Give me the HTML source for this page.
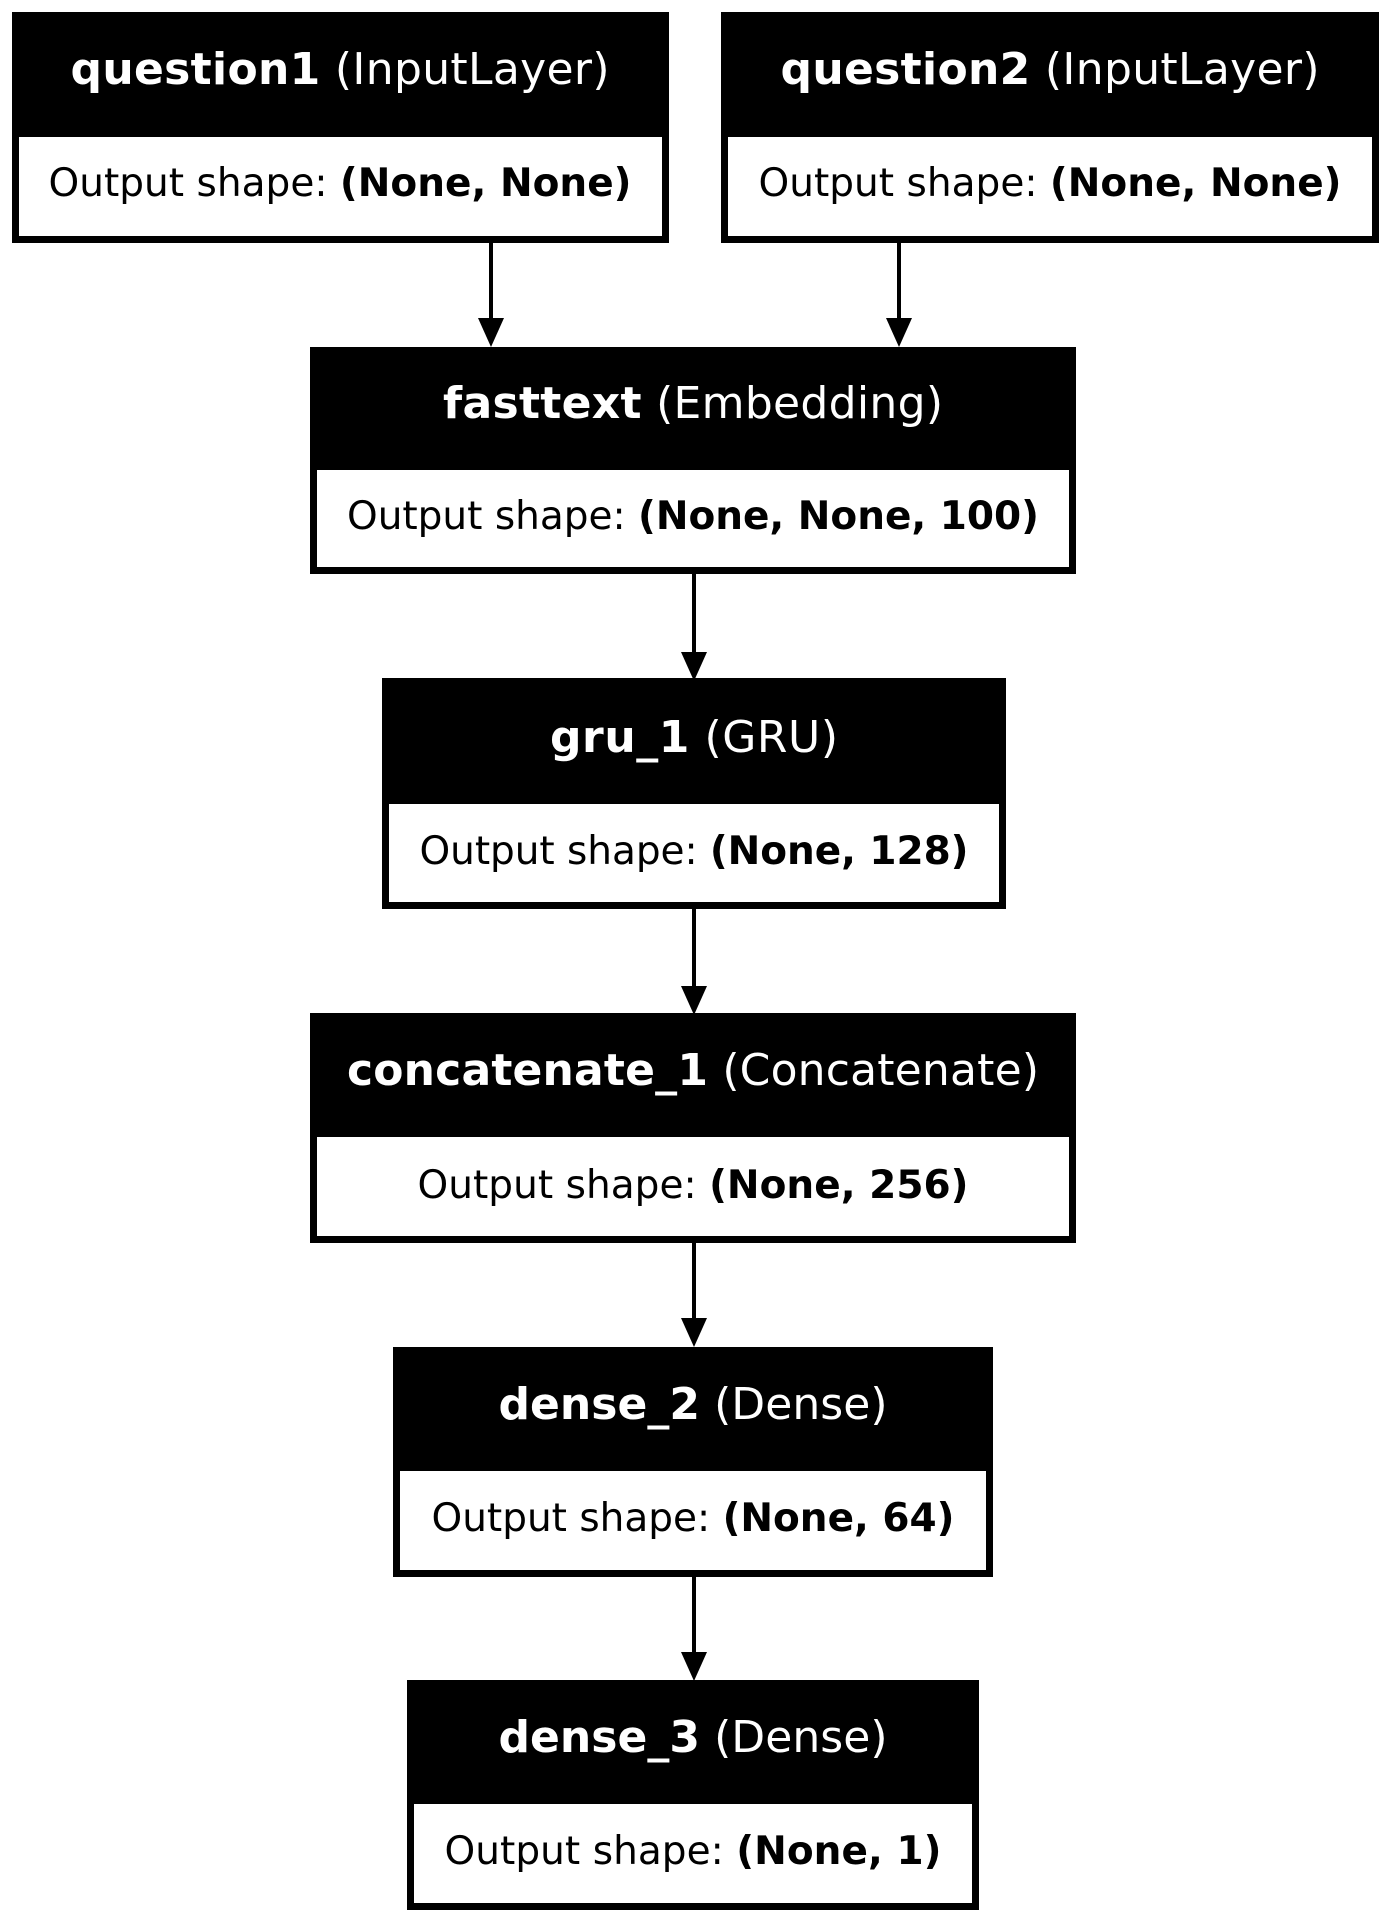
<!DOCTYPE html>
<html><head><meta charset="utf-8"><style>
html,body{margin:0;padding:0;background:#fff;}
svg{display:block;}
text{font-family:"DejaVu Sans","Liberation Sans",sans-serif;}
.h{fill:#fff;font-size:44px;}
.b{fill:#000;font-size:39px;}
.bd{font-weight:bold;}
</style></head><body>
<svg width="1389" height="1922" viewBox="0 0 1389 1922" xmlns="http://www.w3.org/2000/svg">
<g stroke="#000" stroke-width="4">
<line x1="491" y1="243" x2="491" y2="320"/>
<line x1="899" y1="243" x2="899" y2="320"/>
<line x1="694" y1="574" x2="694" y2="652"/>
<line x1="694" y1="909" x2="694" y2="986"/>
<line x1="694" y1="1243" x2="694" y2="1318"/>
<line x1="694" y1="1577" x2="694" y2="1652"/>
</g>
<g fill="#000">
<polygon points="478,318 504,318 491,347"/>
<polygon points="886,318 912,318 899,347"/>
<polygon points="681,652 707,652 694,681"/>
<polygon points="681,986 707,986 694,1015"/>
<polygon points="681,1318 707,1318 694,1347"/>
<polygon points="681,1652 707,1652 694,1681"/>
</g>
<rect x="12" y="12" width="657" height="231" fill="#000"/>
<rect x="19" y="137" width="643" height="99" fill="#fff"/>
<text class="h" x="340" y="84" text-anchor="middle" textLength="539" lengthAdjust="spacing"><tspan class="bd">question1</tspan> (InputLayer)</text>
<text class="b" x="340" y="196" text-anchor="middle" textLength="583" lengthAdjust="spacing">Output shape: <tspan class="bd">(None, None)</tspan></text>
<rect x="721" y="12" width="658" height="231" fill="#000"/>
<rect x="728" y="137" width="644" height="99" fill="#fff"/>
<text class="h" x="1050" y="84" text-anchor="middle" textLength="539" lengthAdjust="spacing"><tspan class="bd">question2</tspan> (InputLayer)</text>
<text class="b" x="1050" y="196" text-anchor="middle" textLength="583" lengthAdjust="spacing">Output shape: <tspan class="bd">(None, None)</tspan></text>
<rect x="310" y="347" width="766" height="227" fill="#000"/>
<rect x="317" y="470" width="752" height="97" fill="#fff"/>
<text class="h" x="693" y="418" text-anchor="middle" textLength="500" lengthAdjust="spacing"><tspan class="bd">fasttext</tspan> (Embedding)</text>
<text class="b" x="693" y="529" text-anchor="middle" textLength="692" lengthAdjust="spacing">Output shape: <tspan class="bd">(None, None, 100)</tspan></text>
<rect x="382" y="678" width="624" height="231" fill="#000"/>
<rect x="389" y="804" width="610" height="98" fill="#fff"/>
<text class="h" x="694" y="752" text-anchor="middle" textLength="288" lengthAdjust="spacing"><tspan class="bd">gru_1</tspan> (GRU)</text>
<text class="b" x="694" y="864" text-anchor="middle" textLength="549" lengthAdjust="spacing">Output shape: <tspan class="bd">(None, 128)</tspan></text>
<rect x="310" y="1013" width="766" height="230" fill="#000"/>
<rect x="317" y="1137" width="752" height="99" fill="#fff"/>
<text class="h" x="693" y="1085" text-anchor="middle" textLength="692" lengthAdjust="spacing"><tspan class="bd">concatenate_1</tspan> (Concatenate)</text>
<text class="b" x="693" y="1198" text-anchor="middle" textLength="551" lengthAdjust="spacing">Output shape: <tspan class="bd">(None, 256)</tspan></text>
<rect x="393" y="1347" width="600" height="230" fill="#000"/>
<rect x="400" y="1471" width="586" height="99" fill="#fff"/>
<text class="h" x="693" y="1419" text-anchor="middle" textLength="389" lengthAdjust="spacing"><tspan class="bd">dense_2</tspan> (Dense)</text>
<text class="b" x="693" y="1531" text-anchor="middle" textLength="523" lengthAdjust="spacing">Output shape: <tspan class="bd">(None, 64)</tspan></text>
<rect x="407" y="1680" width="572" height="230" fill="#000"/>
<rect x="414" y="1804" width="558" height="99" fill="#fff"/>
<text class="h" x="693" y="1752" text-anchor="middle" textLength="389" lengthAdjust="spacing"><tspan class="bd">dense_3</tspan> (Dense)</text>
<text class="b" x="693" y="1864" text-anchor="middle" textLength="497" lengthAdjust="spacing">Output shape: <tspan class="bd">(None, 1)</tspan></text>
</svg>
</body></html>
